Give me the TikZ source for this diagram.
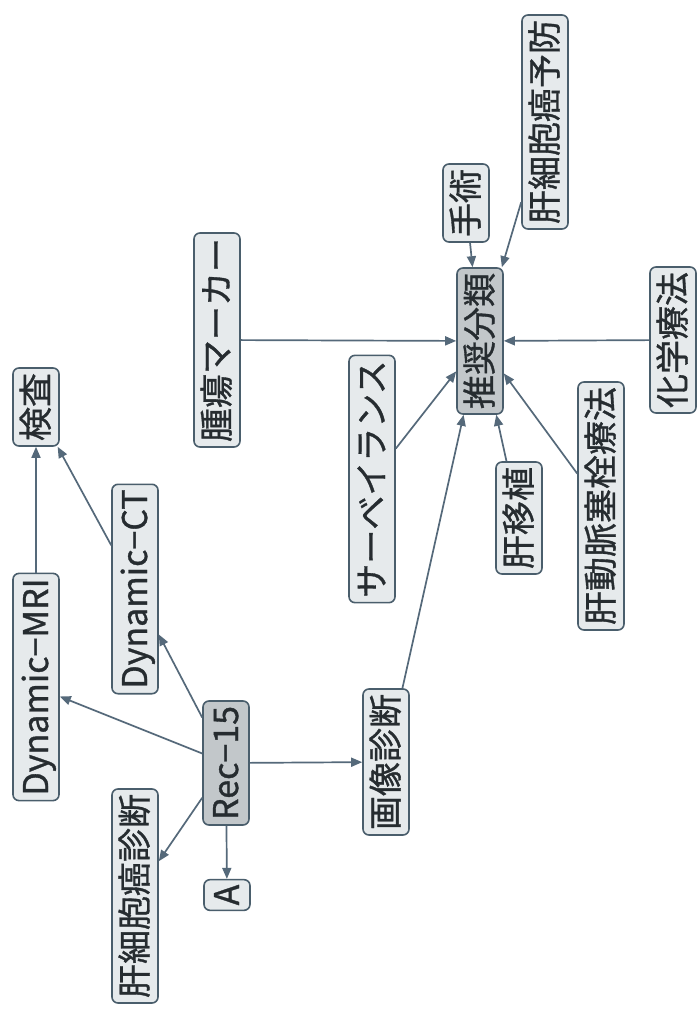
\documentclass[tikz,border=0pt]{standalone}
\usepackage{fontspec}
\setmainfont{Noto Sans CJK JP}[FakeBold=1]
\usetikzlibrary{arrows.meta}
\definecolor{bordc}{HTML}{4A5E6C}
\definecolor{boxfill}{HTML}{E6EAEC}
\definecolor{hubfill}{HTML}{C2C7CA}
\definecolor{linec}{HTML}{55697A}
\definecolor{textc}{HTML}{262C30}
\begin{document}
\begin{tikzpicture}[x=1pt,y=-1pt,
  box/.style={draw=bordc, line width=1.6pt, fill=boxfill, rounded corners=6pt, rotate=90,
    font=\fontsize{34}{40}\selectfont, text=textc, inner xsep=5pt, inner ysep=6pt,
    text height=29pt, text depth=5pt},
  hub/.style={box, fill=hubfill},
  link/.style={draw=linec, line width=1.7pt, -{Triangle[length=11pt,width=9pt]}}]
\useasboundingbox[fill=white] (0,0) rectangle (696,1009);

\node[box] (kensa) at (36,407) {検査};
\node[box] (mri) at (36,687) {Dynamic−MRI};
\node[box] (ct) at (135,589) {Dynamic−CT};
\node[hub] (rec) at (226,763) {Rec−15};
\node[box] (a) at (227,895) {A};
\node[box] (shindan) at (135,896) {肝細胞癌診断};
\node[box] (gazo) at (386,762) {画像診断};
\node[box] (shuyo) at (217,340) {腫瘍マーカー};
\node[box] (surv) at (372,479) {サーベイランス};
\node[hub] (suisho) at (480,341) {推奨分類};
\node[box] (shujutsu) at (466,203) {手術};
\node[box] (yobo) at (545,122) {肝細胞癌予防};
\node[box] (kagaku) at (673,340) {化学療法};
\node[box] (ishoku) at (519,518) {肝移植};
\node[box] (tace) at (601,506) {肝動脈塞栓療法};

\draw[link] (mri) -- (kensa);
\draw[link] (ct) -- (kensa);
\draw[link] (rec) -- (mri);
\draw[link] (rec) -- (ct);
\draw[link] (rec) -- (shindan);
\draw[link] (rec) -- (a);
\draw[link] (rec) -- (gazo);
\draw[link] (gazo) -- (suisho);
\draw[link] (shuyo) -- (suisho);
\draw[link] (surv) -- (suisho);
\draw[link] (shujutsu) -- (suisho);
\draw[link] (yobo) -- (suisho);
\draw[link] (kagaku) -- (suisho);
\draw[link] (ishoku) -- (suisho);
\draw[link] (tace) -- (suisho);
\end{tikzpicture}
\end{document}
